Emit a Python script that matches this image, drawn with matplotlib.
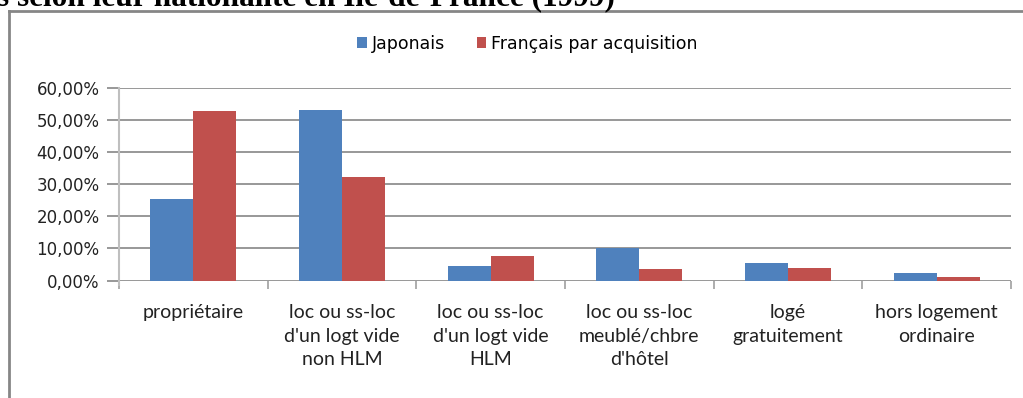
import matplotlib.pyplot as plt
import numpy as np
from matplotlib.lines import Line2D
from matplotlib.ticker import FuncFormatter

categories = [
    "propriétaire",
    "loc ou ss-loc\nd'un logt vide\nnon HLM",
    "loc ou ss-loc\nd'un logt vide\nHLM",
    "loc ou ss-loc\nmeublé/chbre\nd'hôtel",
    "logé\ngratuitement",
    "hors logement\nordinaire",
]
japonais = [0.253, 0.532, 0.045, 0.101, 0.055, 0.024]
francais_acq = [0.529, 0.321, 0.076, 0.036, 0.039, 0.011]

blue = "#4F81BD"
red = "#C0504D"
grid_grey = "#868686"

plt.rcParams["font.family"] = ["DejaVu Sans"]

fig = plt.figure(figsize=(10.23, 3.98), dpi=100)
W, H = 1023, 398
ax = fig.add_axes([119 / W, 1 - 280.6 / H, (1011 - 119) / W, (280.6 - 87.7) / H])

x = np.arange(len(categories))
bw = 0.29
ax.bar(x - bw / 2, japonais, bw, color=blue, label="Japonais", zorder=3)
ax.bar(x + bw / 2, francais_acq, bw, color=red, label="Français par acquisition", zorder=3)

ax.set_xlim(-0.5, len(categories) - 0.5)
ax.set_ylim(0, 0.6)
ax.set_yticks(np.arange(0, 0.61, 0.1))
ax.yaxis.set_major_formatter(FuncFormatter(lambda v, p: f"{v * 100:.2f}%".replace(".", ",")))
ax.grid(axis="y", color=grid_grey, linewidth=1.2, zorder=0)

ax.set_xticks(x)
ax.set_xticklabels(categories, fontsize=14, linespacing=1.45, va="top",
                   family=["Lato", "DejaVu Sans"])
ax.set_xticks(np.arange(-0.5, len(categories)), minor=True)
ax.tick_params(axis="x", which="major", length=0, pad=17, colors="#222222")
ax.tick_params(axis="x", which="minor", length=6, width=1.2, color="#A0A0A0")
ax.tick_params(axis="y", length=9, width=1.2, color=grid_grey, pad=5, labelsize=12,
               labelcolor="#222222")

for s in ["top", "right", "bottom"]:
    ax.spines[s].set_visible(False)
ax.spines["left"].set_color("#BFBFBF")
ax.spines["left"].set_linewidth(1.5)
ax.spines["left"].set_bounds(-0.015, 0.6)

ax.legend(loc="center", bbox_to_anchor=(0.458, 1 + 44 / 193), ncol=2, frameon=False,
          fontsize=12.5, handlelength=0.55, handleheight=0.55, handletextpad=0.3,
          columnspacing=1.8, borderpad=0)

# outer chart border (only top and left edges are in frame)
fig.add_artist(Line2D([9 / W, 9 / W], [0, 1 - 11 / H], transform=fig.transFigure,
                      color=grid_grey, linewidth=2))
fig.add_artist(Line2D([9 / W, 1], [1 - 11 / H, 1 - 11 / H], transform=fig.transFigure,
                      color=grid_grey, linewidth=2))

fig.text(-3 / W, 1 - 5 / H, "s selon leur nationalité en Ile-de-France (1999)",
         family="Liberation Serif", weight="bold", fontsize=22.5, va="baseline", ha="left")

fig.savefig("out.png", dpi=100)
